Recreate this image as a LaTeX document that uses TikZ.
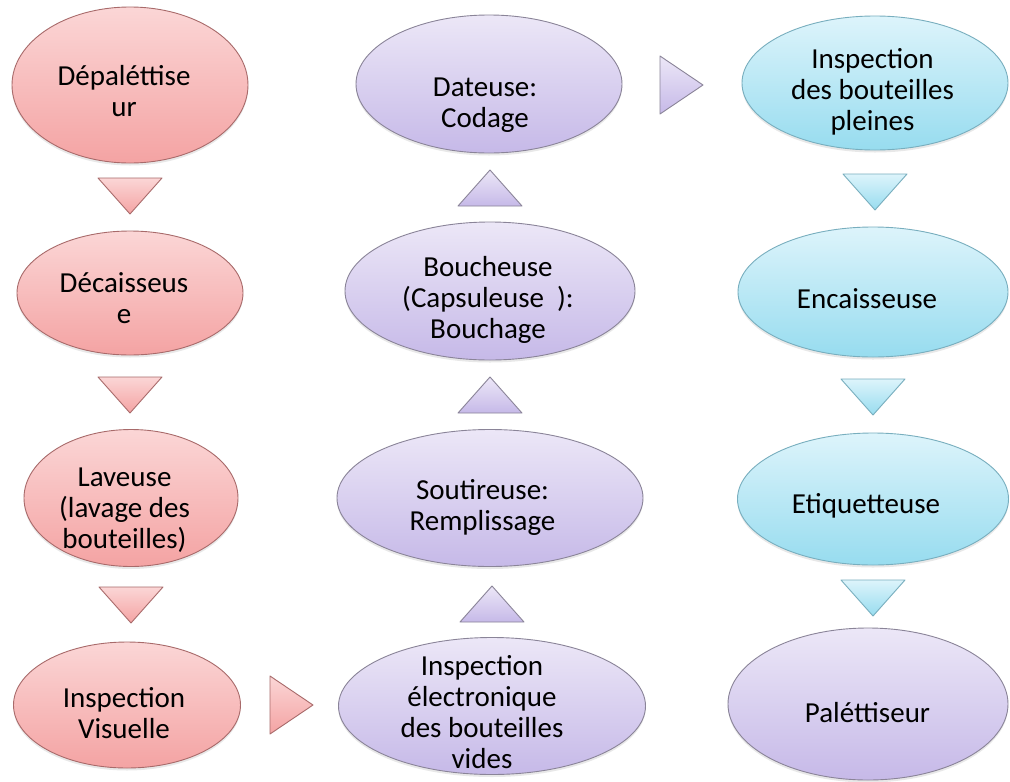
\documentclass[tikz,border=0pt]{standalone}
\usepackage{fontspec}
\setmainfont{Carlito}
\usetikzlibrary{shapes.geometric,shadows}

% palette of the three stages
\definecolor{redtop}{HTML}{FBD6D6}
\definecolor{redbot}{HTML}{F4A3A3}
\definecolor{redline}{HTML}{A86A6A}
\definecolor{purtop}{HTML}{ECE7F7}
\definecolor{purbot}{HTML}{C6B9E8}
\definecolor{purline}{HTML}{8A8498}
\definecolor{cyatop}{HTML}{DDF4FB}
\definecolor{cyabot}{HTML}{97DCEF}
\definecolor{cyaline}{HTML}{78AEBE}

\tikzset{
  stage/.style={ellipse, draw=#1line, line width=0.9pt, top color=#1top,
    bottom color=#1bot, inner sep=0pt,
    drop shadow={opacity=0.18, shadow xshift=0pt, shadow yshift=-2.5pt}},
  lbl/.style={align=center, inner sep=0pt, text=black, anchor=base,
    font=\fontsize{29}{31}\selectfont},
  tri/.style={draw=#1line, line width=0.9pt, line join=round,
    top color=#1top, bottom color=#1bot},
  downtri/.pic={\path[tri=#1] (-32,-18) -- (32,-18) -- (0,18) -- cycle;},
  uptri/.pic={\path[tri=#1] (-32,18) -- (32,18) -- (0,-18) -- cycle;},
  righttri/.pic={\path[tri=#1] (-21,-29) -- (-21,29) -- (22,0) -- cycle;},
}

\begin{document}
\begin{tikzpicture}[x=1pt,y=-1pt]
\fill[white] (0,0) rectangle (1010,782);
\useasboundingbox (0,0) rectangle (1010,782);

% first column: unloading and washing
\node[stage=red, minimum width=236pt, minimum height=156pt] (dep) at (130,85) {};
\node[stage=red, minimum width=226pt, minimum height=124pt] (dec) at (130,293) {};
\node[stage=red, minimum width=214pt, minimum height=137pt] (lav) at (131,498) {};
\node[stage=red, minimum width=227pt, minimum height=126pt] (vis) at (127,705) {};

% second column: filling line
\node[stage=pur, minimum width=266pt, minimum height=138pt] (dat) at (489,84) {};
\node[stage=pur, minimum width=290pt, minimum height=138pt] (bou) at (490,291) {};
\node[stage=pur, minimum width=306pt, minimum height=137pt] (sou) at (490,498) {};
\node[stage=pur, minimum width=307pt, minimum height=137pt] (ele) at (492,706) {};

% third column: packing
\node[stage=cya, minimum width=266pt, minimum height=134pt] (ins) at (875,83) {};
\node[stage=cya, minimum width=270pt, minimum height=130pt] (enc) at (873,292) {};
\node[stage=cya, minimum width=271pt, minimum height=132pt] (eti) at (873,499) {};
\node[stage=pur, minimum width=280pt, minimum height=152pt] (pal) at (868,704) {};

% labels, placed by the baseline of their last line
\node[lbl] (dep-t) at (124,116) {Dépaléttise\\ur};
\node[lbl] (dec-t) at (124,323) {Décaisseus\\e};
\node[lbl] (lav-t) at (124.5,548) {Laveuse\\(lavage des\\bouteilles)};
\node[lbl] (vis-t) at (124,738) {Inspection\\Visuelle};
\node[lbl] (dat-t) at (485,127) {Dateuse:\\Codage};
\node[lbl] (bou-t) at (488,338) {Boucheuse\\(Capsuleuse~~):\\Bouchage};
\node[lbl] (sou-t) at (482.5,530) {Soutireuse:\\Remplissage};
\node[lbl] (ele-t) at (482,768) {Inspection\\électronique\\des bouteilles\\vides};
\node[lbl] (ins-t) at (872.5,130) {Inspection\\des bouteilles\\pleines};
\node[lbl] (enc-t) at (867,308) {Encaisseuse};
\node[lbl] (eti-t) at (866,513) {Etiquetteuse};
\node[lbl] (pal-t) at (867.5,722) {Paléttiseur};

% flow triangles
\pic at (dep |- 0,196) {downtri=red};
\pic at (dec |- 0,395) {downtri=red};
\pic at (lav |- 0,605) {downtri=red};
\pic at (291,705) {righttri=red};
\pic at (ele |- 0,604) {uptri=pur};
\pic at (sou |- 0,395) {uptri=pur};
\pic at (bou |- 0,188) {uptri=pur};
\pic at (681,85) {righttri=pur};
\pic at (ins |- 0,192) {downtri=cya};
\pic at (enc |- 0,397) {downtri=cya};
\pic at (eti |- 0,598) {downtri=cya};
\end{tikzpicture}
\end{document}
